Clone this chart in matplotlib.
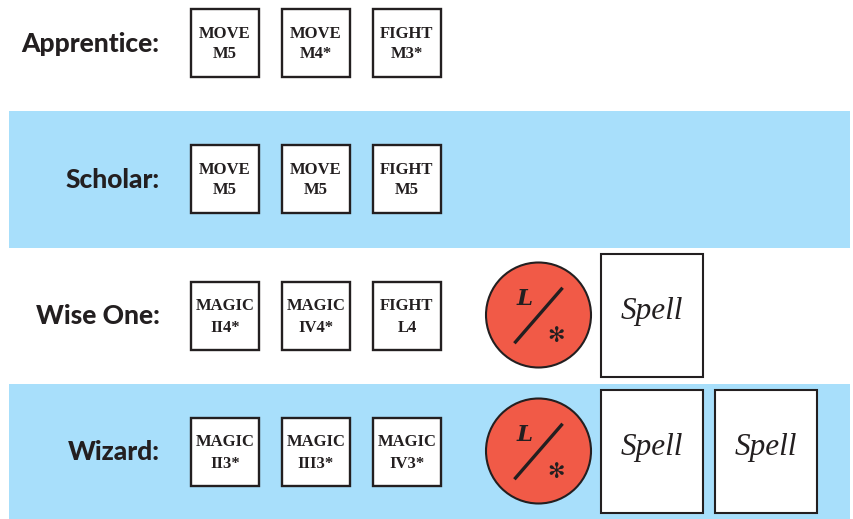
import matplotlib
matplotlib.use("Agg")
import matplotlib.pyplot as plt
from matplotlib.patches import Rectangle, Circle

# rows top to bottom
ranks = ["Apprentice:", "Scholar:", "Wise One:", "Wizard:"]
cards = [
    [("MOVE", "M5"), ("MOVE", "M4*"), ("FIGHT", "M3*")],
    [("MOVE", "M5"), ("MOVE", "M5"), ("FIGHT", "M5")],
    [("MAGIC", "II4*"), ("MAGIC", "IV4*"), ("FIGHT", "L4")],
    [("MAGIC", "II3*"), ("MAGIC", "III3*"), ("MAGIC", "IV3*")],
]
spell_counts = [0, 0, 1, 2]
has_token = [False, False, True, True]
shaded = [False, True, False, True]

# layout in pixels
W, H = 854, 519
row_tops = [9, 145, 282, 418]
card_lefts = [191, 282, 373]
card_size = 68
band_tops = [None, 111, None, 384]
band_bottoms = [None, 248, None, 519]
spell_lefts = [601, 715]

ink = "#231f20"
blue = "#a8dffb"
red = "#f15a47"

fig = plt.figure(figsize=(W / 100, H / 100), dpi=100)
ax = fig.add_axes([0, 0, 1, 1])
ax.set_xlim(0, W)
ax.set_ylim(H, 0)
ax.axis("off")

for i, rank in enumerate(ranks):
    top = row_tops[i]
    if shaded[i]:
        ax.add_patch(Rectangle((9, band_tops[i]), 841, band_bottoms[i] - band_tops[i],
                               fc=blue, ec="none", zorder=0))
    ax.text(159.5, top + 34.5, rank, ha="right", va="center", fontsize=19,
            fontfamily="Lato", fontweight="black", color=ink)

    for left, (word, code) in zip(card_lefts, cards[i]):
        ax.add_patch(Rectangle((left, top), card_size, card_size, fc="white", ec=ink, lw=1.7, zorder=1))
        cx = left + card_size / 2
        ax.text(cx, top + 24.5, word, ha="center", va="center", fontsize=12,
                fontfamily="Liberation Serif", fontweight="bold", color=ink, zorder=2)
        ax.text(cx, top + 45.5, code, ha="center", va="center", fontsize=12,
                fontfamily="Liberation Serif", fontweight="bold", color=ink, zorder=2)

    if has_token[i]:
        cx, cy = 538.5, top + 33
        ax.add_patch(Circle((cx, cy), 52.5, fc=red, ec=ink, lw=1.5, zorder=1))
        ax.plot([cx - 23, cx + 23], [cy + 27, cy - 26], color=ink, lw=2.4, zorder=2)
        ax.text(cx - 14, cy - 16, "L", ha="center", va="center", fontsize=16.5,
                fontfamily="DejaVu Serif", fontweight="bold", fontstyle="italic", color=ink, zorder=2)
        ax.text(cx + 18, cy + 21, "\u273b", ha="center", va="center", fontsize=15,
                fontfamily="DejaVu Sans", color=ink, zorder=2)

    for left in spell_lefts[:spell_counts[i]]:
        ax.add_patch(Rectangle((left, top - 28), 102, 123, fc="white", ec=ink, lw=1.5, zorder=1))
        ax.text(left + 51, top + 29, "Spell", ha="center", va="center", fontsize=22.5,
                fontfamily="Liberation Serif", fontstyle="italic", color=ink, zorder=2)

fig.savefig("out.png", dpi=100)
